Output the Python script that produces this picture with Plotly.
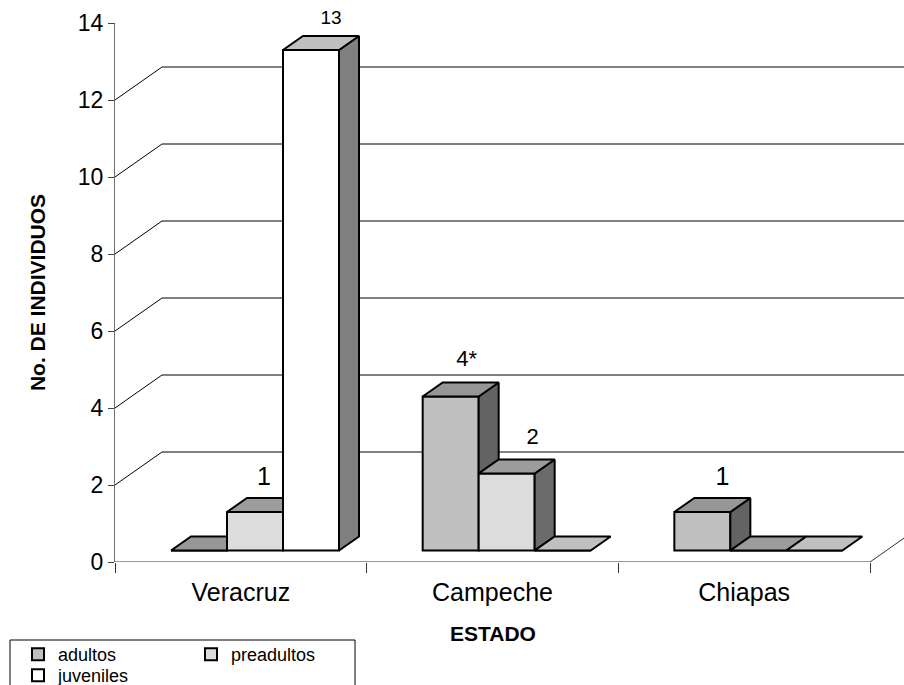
import plotly.graph_objects as go

# ---- data -------------------------------------------------------------
categories = ["Veracruz", "Campeche", "Chiapas"]
series_names = ["adultos", "preadultos", "juveniles"]
adultos = [0, 4, 1]
preadultos = [1, 2, 0]
juveniles = [13, 0, 0]
y_tick_values = [0, 2, 4, 6, 8, 10, 12, 14]
label_suffix = {("adultos", 1): "*"}          # Campeche adults flagged with an asterisk

series_values = [adultos, preadultos, juveniles]

# ---- style --------------------------------------------------------------
FONT = "Liberation Sans, Arial, sans-serif"

# font size of each value label, and small nudges (px)
label_size = {("juveniles", 0): 19, ("adultos", 1): 22, ("preadultos", 1): 22}
label_nudge = {("preadultos", 0): -11, ("preadultos", 1): 6, ("adultos", 1): -4}
label_lift = {("adultos", 1): 4, ("preadultos", 1): 3}

# front / top / side shading of each series
shades = {
    "adultos": ("#C0C0C0", "#969696", "#636363"),
    "preadultos": ("#DCDCDC", "#9C9C9C", "#6B6B6B"),
    "juveniles": ("#FFFFFF", "#C0C0C0", "#808080"),
}

W, H = 904, 685
M_L, M_R, M_T, M_B = 115, 0, 23, 123
X0 = -0.5
PX_PER_CAT = 251.67
Y_MAX = 14
PX_PER_UNIT = (H - M_T - M_B) / Y_MAX
X1 = X0 + (W - M_L - M_R) / PX_PER_CAT


def ux(px):
    return px / PX_PER_CAT


def uy(px):
    return px / PX_PER_UNIT


def paper_y(py):
    return (H - M_B - py) / (H - M_T - M_B)


def paper_x(px):
    return (px - M_L) / (W - M_L - M_R)


WALL_DX, WALL_DY = ux(47), uy(33)       # depth of the back wall
BAR_W = ux(56)                          # bar width
BAR_LIFT = uy(11.5)                     # bars stand inside the floor
BAR_DX, BAR_DY = ux(20), uy(14)         # depth of each bar
LABEL_GAP = 7                           # px between bar top and its label

fig = go.Figure()

# ---- front faces (also used for the legend) -------------------------------
for si, name in enumerate(series_names):
    vals = series_values[si]
    centers = [ci - 0.5 + BAR_W * (1 + si) + BAR_W / 2 for ci in range(len(categories))]
    fig.add_trace(go.Bar(
        x=centers, y=vals, base=[BAR_LIFT] * len(vals), width=BAR_W,
        name=name, marker=dict(color=shades[name][0], line=dict(color="black", width=2)),
        legend="legend" if si < 2 else "legend2",
        hoverinfo="skip",
    ))


# ---- top and side faces ------------------------------------------------------
def poly(xs, ys, color):
    fig.add_trace(go.Scatter(
        x=xs + [xs[0]], y=ys + [ys[0]], mode="lines", fill="toself",
        fillcolor=color, line=dict(color="black", width=2),
        showlegend=False, hoverinfo="skip",
    ))


for ci in range(len(categories)):
    for si, name in enumerate(series_names):
        v = series_values[si][ci]
        nxt = series_values[si + 1][ci] if si + 1 < len(series_names) else 0
        L = ci - 0.5 + BAR_W * (1 + si)
        R = L + BAR_W
        b = BAR_LIFT
        t = BAR_LIFT + v
        _, top_c, side_c = shades[name]
        # side face, hidden below the top of the next bar
        if v > nxt:
            poly([R, R + BAR_DX, R + BAR_DX, R],
                 [b + nxt, b + nxt + BAR_DY, t + BAR_DY, t], side_c)
        # top face, trimmed where the next bar stands taller
        if nxt > v:
            poly([L, R, R, L + BAR_DX], [t, t, t + BAR_DY, t + BAR_DY], top_c)
        else:
            poly([L, R, R + BAR_DX, L + BAR_DX], [t, t, t + BAR_DY, t + BAR_DY], top_c)

# ---- value labels --------------------------------------------------------------
for si, name in enumerate(series_names):
    for ci, v in enumerate(series_values[si]):
        if v == 0:
            continue
        L = ci - 0.5 + BAR_W * (1 + si)
        txt = f"{v}{label_suffix.get((name, ci), '')}"
        fig.add_trace(go.Scatter(
            x=[L + BAR_W / 2 + BAR_DX + ux(label_nudge.get((name, ci), 0))],
            y=[BAR_LIFT + v + BAR_DY + uy(LABEL_GAP + label_lift.get((name, ci), 0))],
            mode="text", text=[txt], textposition="top center",
            textfont=dict(family=FONT, size=label_size.get((name, ci), 25), color="black"),
            cliponaxis=False, showlegend=False, hoverinfo="skip",
        ))

# ---- walls, gridlines and floor ----------------------------------------------------
shapes = []
for yv in y_tick_values:
    if yv == 0:
        continue
    shapes.append(dict(type="path", xref="x", yref="y", layer="below",
                       path=f"M{X0},{yv} L{X0 + WALL_DX},{yv + WALL_DY} L{X1},{yv + WALL_DY}",
                       line=dict(color="black", width=1)))
shapes.append(dict(type="path", xref="x", yref="y", layer="below",
                   path=f"M{X0},0 L{len(categories) - 0.5},0 L{len(categories) - 0.5 + WALL_DX},{WALL_DY}",
                   line=dict(color="#303030", width=1)))
# legend frame
shapes.append(dict(type="rect", xref="paper", yref="paper",
                   x0=paper_x(10), x1=paper_x(355), y0=paper_y(700), y1=paper_y(640),
                   line=dict(color="black", width=1), fillcolor="rgba(0,0,0,0)"))

fig.add_annotation(x=1, y=paper_y(633), xref="x", yref="paper", yanchor="middle",
                   text="ESTADO", showarrow=False,
                   font=dict(family=FONT, size=21, color="black", weight="bold"))

fig.update_layout(
    width=W, height=H,
    margin=dict(l=M_L, r=M_R, t=M_T, b=M_B, autoexpand=False),
    paper_bgcolor="white", plot_bgcolor="white",
    barmode="overlay",
    shapes=shapes,
    font=dict(family=FONT, color="black"),
    xaxis=dict(range=[X0, X1], tickvals=[0, 1, 2], ticktext=categories, ticks="",
               minor=dict(tickvals=[-0.5, 0.5, 1.5, 2.5], ticks="outside", ticklen=10,
                          tickcolor="#303030", tickwidth=1),
               showgrid=False, zeroline=False, showline=False,
               tickfont=dict(family=FONT, size=25), ticklabelstandoff=13),
    yaxis=dict(range=[0, Y_MAX], tickvals=y_tick_values, ticks="outside", ticklen=6,
               tickcolor="#404040", showline=True, linecolor="#707070", linewidth=1,
               showgrid=False, zeroline=False, tickfont=dict(family=FONT, size=23),
               title=dict(text="No. DE INDIVIDUOS", standoff=26,
                          font=dict(family=FONT, size=21, weight="bold"))),
    legend=dict(orientation="h", x=paper_x(18), y=paper_y(636),
                xanchor="left", yanchor="top", entrywidth=128,
                bgcolor="rgba(0,0,0,0)", borderwidth=0, font=dict(family=FONT, size=18)),
    legend2=dict(orientation="h", x=paper_x(18), y=paper_y(657),
                 xanchor="left", yanchor="top",
                 bgcolor="rgba(0,0,0,0)", borderwidth=0, font=dict(family=FONT, size=18)),
)

fig.write_html("out.html")
